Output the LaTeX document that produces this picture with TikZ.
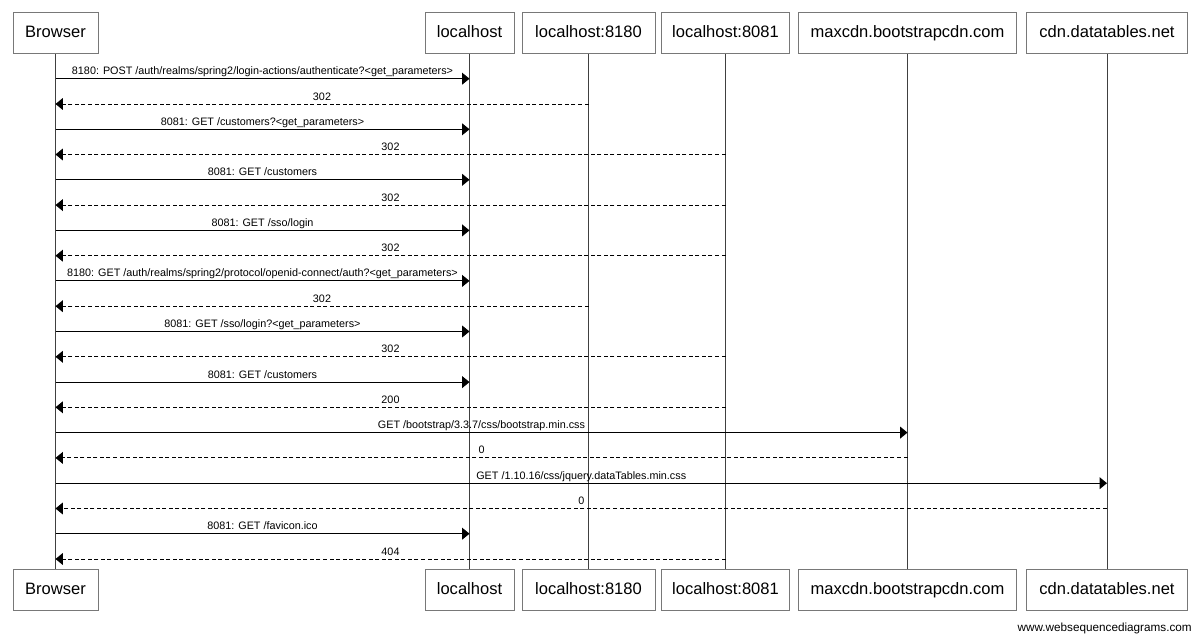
\documentclass[tikz,border=0pt]{standalone}
\usepackage{fontspec}
\setmainfont{Liberation Sans}
\usetikzlibrary{arrows.meta}
\definecolor{boxgray}{rgb}{0.47,0.47,0.47}
\definecolor{lifegray}{rgb}{0.25,0.25,0.25}
\begin{document}
\begin{tikzpicture}[x=0.75pt,y=-0.75pt,
  actor/.style={draw=boxgray, line width=0.75pt, fill=white, minimum height=30.75pt, inner sep=0pt, text height=0.72em, text depth=0pt, font=\fontsize{12.4}{14}\selectfont},
  life/.style={draw=lifegray, line width=0.75pt},
  msg/.style={draw=black, line width=0.75pt, -{Triangle[length=5.5pt,width=8.8pt]}},
  ret/.style={msg, dash pattern=on 3pt off 1.9pt},
  lbl/.style={font=\fontsize{8.1}{10}\selectfont, anchor=base, inner sep=0pt, yshift=3pt},
  foot/.style={font=\fontsize{8.8}{10}\selectfont, anchor=east, inner sep=0pt}]
\useasboundingbox[fill=white] (0,0) rectangle (1200,639);

% participants (top)
\node[actor, minimum width=63.75pt] (Bt) at (55.5,33) {Browser};
\node[actor, minimum width=66.75pt] (Lt) at (469.5,33) {localhost};
\node[actor, minimum width=99.75pt] (Pt) at (588.5,33) {localhost:8180};
\node[actor, minimum width=96pt]    (Qt) at (725.5,33) {localhost:8081};
\node[actor, minimum width=163.9pt] (Mt) at (907.5,33) {maxcdn.bootstrapcdn.com};
\node[actor, minimum width=121.1pt] (Ct) at (1107,33) {cdn.datatables.net};
% participants (bottom)
\node[actor, minimum width=63.75pt] (Bb) at (55.5,590) {Browser};
\node[actor, minimum width=66.75pt] (Lb) at (469.5,590) {localhost};
\node[actor, minimum width=99.75pt] (Pb) at (588.5,590) {localhost:8180};
\node[actor, minimum width=96pt]    (Qb) at (725.5,590) {localhost:8081};
\node[actor, minimum width=163.9pt] (Mb) at (907.5,590) {maxcdn.bootstrapcdn.com};
\node[actor, minimum width=121.1pt] (Cb) at (1107,590) {cdn.datatables.net};

% lifelines
\draw[life] (Bt.south) -- (Bb.north);
\draw[life] (Lt.south) -- (Lb.north);
\draw[life] (Pt.south) -- (Pb.north);
\draw[life] (Qt.south) -- (Qb.north);
\draw[life] (Mt.south) -- (Mb.north);
\draw[life] (Ct.south) -- (Cb.north);

% messages
\draw[msg] (Bt |- 0,78.7) -- node[lbl] {8180: POST /auth/realms/spring2/login-actions/authenticate?<get\_parameters>} (Lt |- 0,78.7);
\draw[ret] (Pt |- 0,104.0) -- node[lbl] {302} (Bt |- 0,104.0);
\draw[msg] (Bt |- 0,129.3) -- node[lbl] {8081: GET /customers?<get\_parameters>} (Lt |- 0,129.3);
\draw[ret] (Qt |- 0,154.5) -- node[lbl] {302} (Bt |- 0,154.5);
\draw[msg] (Bt |- 0,179.8) -- node[lbl] {8081: GET /customers} (Lt |- 0,179.8);
\draw[ret] (Qt |- 0,205.1) -- node[lbl] {302} (Bt |- 0,205.1);
\draw[msg] (Bt |- 0,230.4) -- node[lbl] {8081: GET /sso/login} (Lt |- 0,230.4);
\draw[ret] (Qt |- 0,255.7) -- node[lbl] {302} (Bt |- 0,255.7);
\draw[msg] (Bt |- 0,280.9) -- node[lbl] {8180: GET /auth/realms/spring2/protocol/openid-connect/auth?<get\_parameters>} (Lt |- 0,280.9);
\draw[ret] (Pt |- 0,306.2) -- node[lbl] {302} (Bt |- 0,306.2);
\draw[msg] (Bt |- 0,331.5) -- node[lbl] {8081: GET /sso/login?<get\_parameters>} (Lt |- 0,331.5);
\draw[ret] (Qt |- 0,356.8) -- node[lbl] {302} (Bt |- 0,356.8);
\draw[msg] (Bt |- 0,382.1) -- node[lbl] {8081: GET /customers} (Lt |- 0,382.1);
\draw[ret] (Qt |- 0,407.3) -- node[lbl] {200} (Bt |- 0,407.3);
\draw[msg] (Bt |- 0,432.6) -- node[lbl] {GET /bootstrap/3.3.7/css/bootstrap.min.css} (Mt |- 0,432.6);
\draw[ret] (Mt |- 0,457.9) -- node[lbl] {0} (Bt |- 0,457.9);
\draw[msg] (Bt |- 0,483.2) -- node[lbl] {GET /1.10.16/css/jquery.dataTables.min.css} (Ct |- 0,483.2);
\draw[ret] (Ct |- 0,508.5) -- node[lbl] {0} (Bt |- 0,508.5);
\draw[msg] (Bt |- 0,533.7) -- node[lbl] {8081: GET /favicon.ico} (Lt |- 0,533.7);
\draw[ret] (Qt |- 0,559.0) -- node[lbl] {404} (Bt |- 0,559.0);

% footer
\node[foot] (footer) at (1192,628) {www.websequencediagrams.com};
\end{tikzpicture}
\end{document}
